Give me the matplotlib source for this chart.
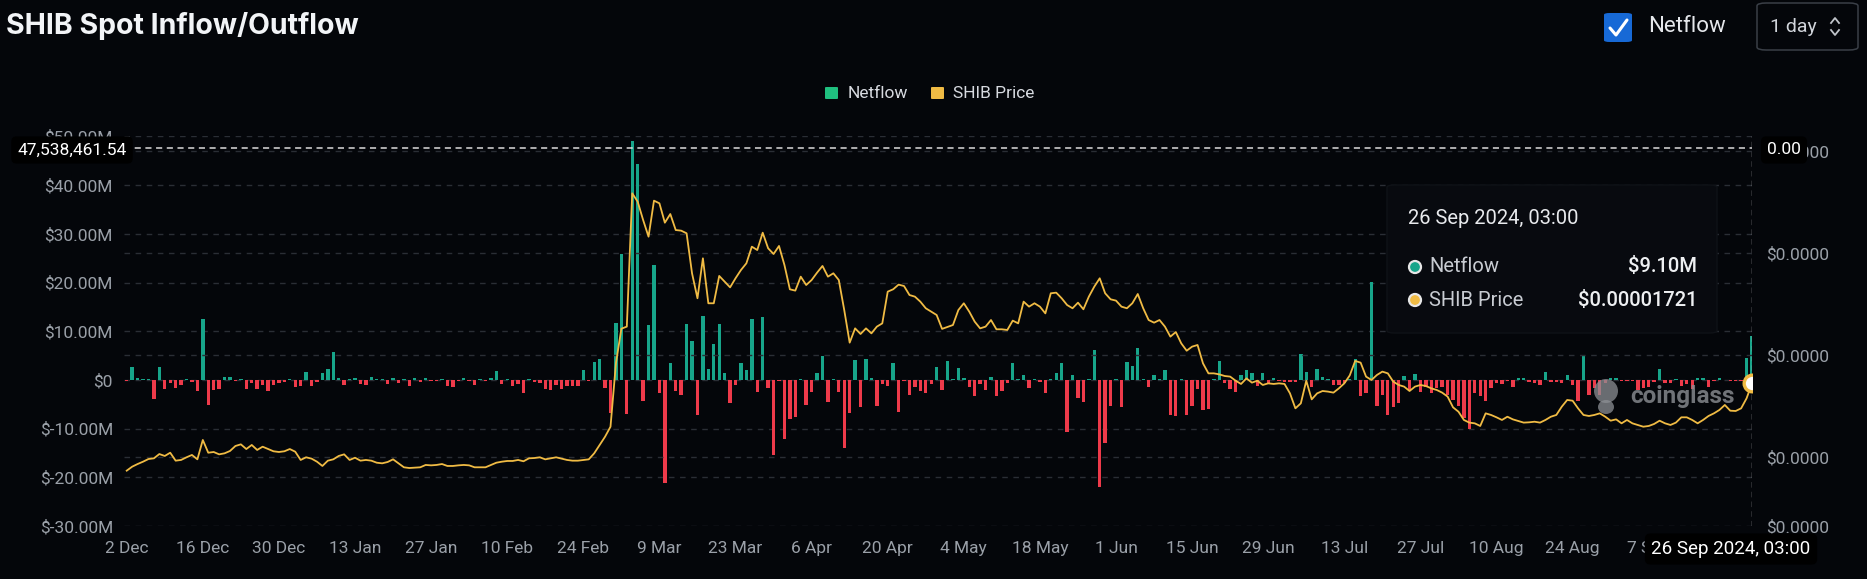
import matplotlib
matplotlib.use("Agg")
import matplotlib.pyplot as plt
from matplotlib.patches import FancyBboxPatch, Ellipse
from matplotlib.lines import Line2D
import pandas as pd
import numpy as np

# ---------------- data ----------------
start_date = "2023-12-02"
n_days = 300

netflow_m = [
    -0.3, 2.6, 0.3, 0.2, 0.2, -3.9, 2.7, -1.9, -0.7, -1.6,
    -1.0, 0.1, -0.5, -2.2, 12.6, -5.2, -2.0, -1.8, 0.6, 0.7,
    -0.3, 0.1, -1.9, -0.7, -1.9, -1.0, -2.2, -1.0, -0.7, -0.5,
    0.1, -1.4, -1.2, 1.6, -1.2, -0.5, 1.4, 2.2, 5.8, 0.3,
    -1.0, 0.2, 0.3, -0.9, -1.1, 0.6, 0.1, 0.1, -0.9, 0.4,
    -0.6, 0.1, -1.2, 0.3, -0.5, 0.4, -0.3, -0.2, 0.1, -1.2,
    -1.4, -0.3, 0.3, -0.2, -1.0, 0.1, -0.2, 0.4, 1.9, -0.9,
    0.1, -1.2, -0.9, -2.6, 0.1,
    # 75-151
    -0.5, -0.7, -1.9, -2.0, -1.1, -1.9, -1.2, -1.3, -1.2, 2.0,
    -0.2, 3.6, 4.3, -1.7, -6.7, 11.6, 25.9, -6.9, 49.1, 44.4,
    -4.3, 11.2, 23.7, -2.6, -21.2, 3.5, -2.3, -3.1, 11.4, 8.1,
    -7.3, 13.2, 2.2, 7.3, 11.4, 1.4, -4.8, -1.0, 3.4, 2.0,
    12.5, -2.4, 12.9, -1.6, -15.4, -0.3, -12.1, -8.0, -7.6, 0.1,
    -5.2, -2.5, 1.5, 5.0, -4.5, 0.1, -2.5, -14.0, -6.7, 4.0,
    -5.6, 4.4, 0.5, -5.4, -0.8, -1.2, 3.4, -6.6, -0.3, -3.0,
    -1.5, -2.2, -2.7, -0.8, 2.7, -2.0, 3.9,
    # 152-227
    0.1, 2.4, 0.4, -1.5, -3.4, -0.8, -2.0, 0.6, -3.4, -2.2,
    -0.7, 3.5, 0.1, 1.0, -1.6, 0.1, -0.5, -2.6, 0.1, 1.4,
    3.4, -10.7, 1.0, -3.7, -4.6, 0.1, 6.1, -22.0, -12.9, -5.3,
    0.1, -5.6, 3.6, 2.9, 6.5, 0.1, -1.4, 1.0, 0.1, 2.0,
    -7.1, -7.5, 0.1, -7.1, -5.3, -1.8, -6.1, -6.0, 0.1, 3.9,
    -0.7, -1.9, -2.4, 1.1, 2.0, 1.4, -1.2, 1.5, -0.8, 0.5,
    -0.3, -0.4, -0.4, -0.4, 5.4, 1.7, -1.4, 2.2, 0.6, 0.2,
    -1.0, -1.0, -0.7, 0.1, 4.2, -3.4,
    # 228-299
    -2.7, 20.2, -5.3, -3.1, -7.1, -5.6, -4.8, 0.9, -2.0, 1.2,
    -2.4, -1.4, -2.7, -1.7, -1.4, -3.1, -4.2, -5.4, -7.8, -10.1,
    -2.7, -3.4, -4.4, -1.7, -0.7, -0.8, -0.3, -1.4, 0.3, 0.3,
    -0.4, -0.7, -1.1, 1.7, -0.5, -0.5, -0.7, 1.0, -1.0, -4.4,
    5.0, -3.1, -1.7, -3.1, -0.6, 0.3, 0.4, -0.3, -0.3, -0.3,
    -2.0, -1.7, -1.4, -0.5, 2.2, -0.7, -0.7, 0.2, -1.2, -0.9,
    -1.9, 0.3, 0.3, -1.4, -0.3, 0.3, -0.1, -0.3, -0.3, -0.3,
    4.6, 9.1,
]

price_e5 = [
    0.866, 0.905, 0.931, 0.954, 0.980, 0.987, 1.029, 1.010, 1.042, 0.964,
    0.971, 0.997, 1.020, 0.977, 1.167, 1.042, 1.049, 1.026, 1.036, 1.059,
    1.108, 1.124, 1.078, 1.118, 1.069, 1.101, 1.078, 1.056, 1.049, 1.056,
    1.078, 1.052, 0.971, 0.997, 0.984, 0.954, 0.912, 0.964, 0.977, 1.010,
    1.026, 0.971, 0.993, 0.964, 0.971, 0.964, 0.944, 0.938, 0.951, 0.977,
    0.938, 0.899, 0.892, 0.895, 0.899, 0.922, 0.918, 0.922, 0.931, 0.912,
    0.912, 0.918, 0.922, 0.918, 0.899, 0.899, 0.899, 0.922, 0.944, 0.954,
    0.961, 0.961, 0.971, 0.958, 0.987,
    # 75-151
    0.990, 0.997, 0.977, 0.987, 0.997, 0.984, 0.971, 0.964, 0.964, 0.971,
    0.977, 1.036, 1.118, 1.199, 1.297, 1.918, 2.258, 2.278, 3.585, 3.503,
    3.324, 3.160, 3.513, 3.487, 3.297, 3.382, 3.225, 3.219, 3.193, 2.801,
    2.556, 2.948, 2.507, 2.507, 2.775, 2.719, 2.663, 2.752, 2.833, 2.899,
    3.062, 3.029, 3.199, 3.046, 2.990, 3.069, 2.882, 2.644, 2.631, 2.768,
    2.686, 2.735, 2.807, 2.873, 2.768, 2.801, 2.735, 2.441, 2.121, 2.261,
    2.206, 2.261, 2.212, 2.278, 2.310, 2.621, 2.644, 2.690, 2.676, 2.588,
    2.572, 2.523, 2.458, 2.425, 2.392, 2.256, 2.275,
    # 152-227
    2.294, 2.441, 2.507, 2.425, 2.327, 2.261, 2.278, 2.343, 2.252, 2.252,
    2.245, 2.337, 2.310, 2.523, 2.474, 2.507, 2.474, 2.408, 2.605, 2.611,
    2.556, 2.490, 2.458, 2.513, 2.448, 2.572, 2.670, 2.752, 2.605, 2.546,
    2.533, 2.474, 2.458, 2.507, 2.598, 2.458, 2.343, 2.317, 2.343, 2.278,
    2.180, 2.225, 2.114, 2.042, 2.082, 2.098, 1.918, 1.820, 1.820, 1.810,
    1.794, 1.788, 1.748, 1.716, 1.771, 1.729, 1.748, 1.706, 1.722, 1.716,
    1.722, 1.716, 1.624, 1.477, 1.526, 1.748, 1.565, 1.624, 1.647, 1.641,
    1.631, 1.673, 1.722, 1.800, 1.942, 1.925,
    # 228-299
    1.788, 1.755, 1.804, 1.837, 1.820, 1.739, 1.706, 1.690, 1.647, 1.690,
    1.706, 1.696, 1.673, 1.657, 1.631, 1.592, 1.487, 1.444, 1.363, 1.337,
    1.330, 1.304, 1.428, 1.412, 1.389, 1.363, 1.395, 1.369, 1.353, 1.337,
    1.340, 1.346, 1.337, 1.363, 1.395, 1.412, 1.493, 1.559, 1.552, 1.477,
    1.412, 1.402, 1.412, 1.428, 1.395, 1.356, 1.369, 1.330, 1.363, 1.330,
    1.314, 1.297, 1.304, 1.324, 1.356, 1.330, 1.314, 1.337, 1.389, 1.389,
    1.363, 1.330, 1.363, 1.402, 1.428, 1.461, 1.510, 1.454, 1.451, 1.477,
    1.575, 1.721,
]

left_ticks = [-30, -20, -10, 0, 10, 20, 30, 40, 50]
left_labels = ["$-30.00M", "$-20.00M", "$-10.00M", "$0", "$10.00M",
               "$20.00M", "$30.00M", "$40.00M", "$50.00M"]
right_ticks_e5 = [1.0, 2.0, 3.0, 4.0]
x_tick_step = 14

crosshair_value = 47538461.54
hover_date = "26 Sep 2024, 03:00"
hover_netflow = "$9.10M"
hover_price = "$0.00001721"

dates = pd.date_range(start_date, periods=n_days, freq="D")
x = np.arange(n_days)
netflow = np.array(netflow_m)
price = np.array(price_e5) * 1e-5

# ---------------- style ----------------
W, H = 1867, 579
BG = "#04060a"
GREEN = "#17a58a"
RED = "#ee3a4a"
YELLOW = "#f0bb44"
GRID = "#2a2e35"
TXT = "#9aa0a8"

plt.rcParams["font.family"] = ["Roboto", "DejaVu Sans"]

fig = plt.figure(figsize=(W / 100, H / 100), dpi=100, facecolor=BG)


def fx(px):
    return px / W


def fy(py):
    return 1 - py / H


ax_left, ax_right_px, ax_top, ax_bot = 124, 1752, 136.5, 526
ax = fig.add_axes([fx(ax_left), fy(ax_bot), fx(ax_right_px - ax_left), (ax_bot - ax_top) / H])
ax.set_facecolor("none")
ax.set_xlim(-0.5, n_days - 1)
ax.set_ylim(-30, 50)

for t in left_ticks:
    ax.axhline(t, color=GRID, lw=1.0, ls=(0, (4, 4)), zorder=0)

colors = [GREEN if v >= 0 else RED for v in netflow]
ax.bar(x, netflow, width=0.62, color=colors, zorder=2, linewidth=0)

ax.set_yticks(left_ticks)
ax.set_yticklabels(left_labels)
ax.set_xticks(x[::x_tick_step])
ax.set_xticklabels([f"{d.day} {d.strftime('%b')}" for d in dates[::x_tick_step]])
ax.tick_params(axis="y", length=0, pad=8, labelsize=12.5, labelcolor=TXT)
ax.tick_params(axis="x", length=0, pad=11, labelsize=12.5, labelcolor=TXT)
for s in ax.spines.values():
    s.set_visible(False)

ax2 = ax.twinx()
ax2.set_ylim(0.3235e-5, 4.142e-5)
for t in right_ticks_e5:
    ax2.axhline(t * 1e-5, color=GRID, lw=1.0, ls=(0, (4, 4)), zorder=0)
ax2.plot(x, price, color=YELLOW, lw=1.3, zorder=3, solid_joinstyle="round")
ax2.plot([x[-1]], [price[-1]], marker="o", ms=12, mfc="white", mec=YELLOW, mew=2.4, zorder=5)
rt = [0.3235e-5] + [t * 1e-5 for t in right_ticks_e5]
ax2.set_yticks(rt)
ax2.set_yticklabels(["$0.0000"] * len(rt))
ax2.tick_params(axis="y", length=0, pad=10, labelsize=12.5, labelcolor=TXT)
for s in ax2.spines.values():
    s.set_visible(False)

# crosshair
ax.axhline(crosshair_value / 1e6, color="#dcdcdc", lw=1.1, ls=(0, (4, 3)), zorder=6)
ax.axvline(x[-1], color="#bdbdbd", lw=1.0, ls=(0, (4, 3)), zorder=6)

# tags
tag_box = dict(boxstyle="round,pad=0.35,rounding_size=0.3", fc="#000000", ec="none")
fig.text(fx(72), fy(150), f"{crosshair_value:,.2f}", ha="center", va="center",
         color="white", fontsize=12.5, bbox=tag_box, zorder=10)
fig.text(fx(1784), fy(150), "0.00", ha="center", va="center",
         color="white", fontsize=12.5, bbox=tag_box, zorder=10)
fig.text(fx(1731), fy(549), hover_date, ha="center", va="center",
         color="white", fontsize=13.5, bbox=tag_box, zorder=10)

# tooltip
tip = FancyBboxPatch((fx(1387), fy(333)), fx(330), (333 - 185) / H,
                     boxstyle="round,pad=0,rounding_size=0.004",
                     transform=fig.transFigure, fc="#080a0f", ec="#0f1217", lw=1, zorder=8)
fig.patches.append(tip)
fig.text(fx(1408), fy(219), hover_date, ha="left", va="center", color="#e8eaed",
         fontsize=14.5, zorder=9)
for yy, lab, val, col in [(267, "Netflow", hover_netflow, GREEN),
                          (300, "SHIB Price", hover_price, YELLOW)]:
    fig.patches.append(Ellipse((fx(1415), fy(yy)), 12 / W, 12 / H, transform=fig.transFigure,
                               fc=col, ec="#e6e6e6", lw=1.6, zorder=9))
    fig.text(fx(1429), fy(yy), lab, ha="left", va="center", color="#c8ccd2",
             fontsize=14.5, zorder=9)
    fig.text(fx(1697), fy(yy), val, ha="right", va="center", color="#eef0f2",
             fontsize=14.5, fontweight="medium", zorder=9)

# watermark
fig.patches.append(Ellipse((fx(1606), fy(391)), 24 / W, 24 / H, transform=fig.transFigure,
                           fc="#8c8f94", ec="none", alpha=0.75, zorder=7))
fig.patches.append(Ellipse((fx(1606), fy(407)), 16 / W, 14 / H, transform=fig.transFigure,
                           fc="#8c8f94", ec="none", alpha=0.75, zorder=7))
fig.text(fx(1630), fy(397), "coinglass", ha="left", va="center", color="#8c8f94",
         fontsize=17.5, fontweight="bold", alpha=0.8, zorder=7)

# title & header controls
fig.text(fx(6), fy(26), "SHIB Spot Inflow/Outflow", ha="left", va="center",
         color="#f2f4f7", fontsize=20.5, fontweight="bold", family=["Inter", "DejaVu Sans"])
fig.patches.append(FancyBboxPatch((fx(1604), fy(42)), fx(28), 29 / H,
                                  boxstyle="round,pad=0,rounding_size=0.003",
                                  transform=fig.transFigure, fc="#1769d6", ec="none"))
fig.lines.append(Line2D([fx(1610), fx(1616), fx(1627)], [fy(28), fy(35), fy(20)],
                        transform=fig.transFigure, color="white", lw=2.2,
                        solid_capstyle="round", solid_joinstyle="round"))
fig.text(fx(1648), fy(27), "Netflow", ha="left", va="center", color="#e5e7eb", fontsize=16)
fig.patches.append(FancyBboxPatch((fx(1757), fy(50)), fx(101), 47 / H,
                                  boxstyle="round,pad=0,rounding_size=0.005",
                                  transform=fig.transFigure, fc="none", ec="#3a3f47", lw=1.1))
fig.text(fx(1770), fy(27), "1 day", ha="left", va="center", color="#d1d5db", fontsize=14)
fig.lines.append(Line2D([fx(1831), fx(1835), fx(1839)], [fy(23), fy(18), fy(23)],
                        transform=fig.transFigure, color="#c0c4ca", lw=1.3))
fig.lines.append(Line2D([fx(1831), fx(1835), fx(1839)], [fy(30), fy(35), fy(30)],
                        transform=fig.transFigure, color="#c0c4ca", lw=1.3))

# legend
fig.patches.append(FancyBboxPatch((fx(825), fy(99)), fx(13), 12 / H,
                                  boxstyle="round,pad=0,rounding_size=0.001",
                                  transform=fig.transFigure, fc="#1fbf7f", ec="none"))
fig.text(fx(848), fy(93), "Netflow", ha="left", va="center", color="#d7dae0", fontsize=12.5)
fig.patches.append(FancyBboxPatch((fx(931), fy(99)), fx(13), 12 / H,
                                  boxstyle="round,pad=0,rounding_size=0.001",
                                  transform=fig.transFigure, fc=YELLOW, ec="none"))
fig.text(fx(953), fy(93), "SHIB Price", ha="left", va="center", color="#d7dae0", fontsize=12.5)

fig.savefig("out.png", dpi=100, facecolor=BG)
